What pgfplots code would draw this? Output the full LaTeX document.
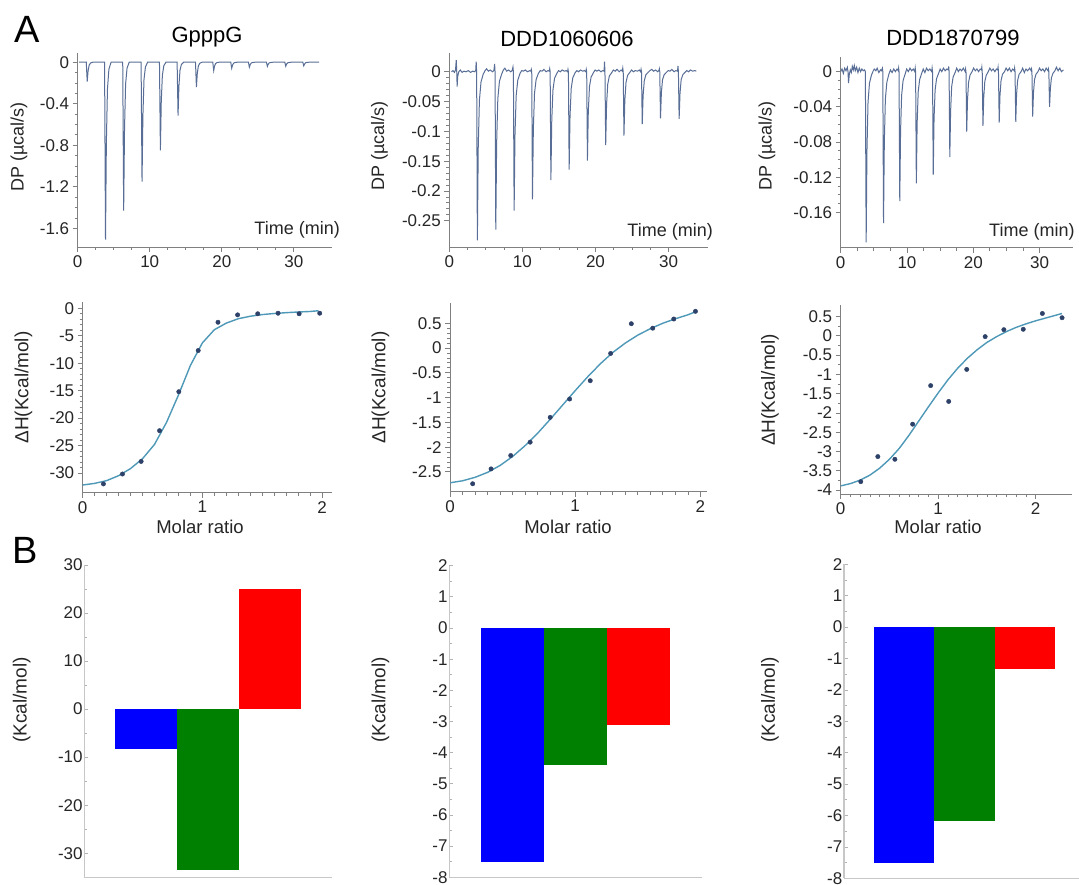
\documentclass[border=0pt]{standalone}
\usepackage{fontspec}
\setmainfont{Liberation Sans}
\usepackage{pgfplots}
\pgfplotsset{compat=1.18}
\definecolor{trace}{RGB}{88,110,150}
\definecolor{fit}{RGB}{78,152,184}
\definecolor{dots}{RGB}{45,65,105}
\definecolor{barblue}{RGB}{0,0,255}
\definecolor{bargreen}{RGB}{0,128,0}
\definecolor{barred}{RGB}{255,0,0}
\pgfplotsset{
  every axis/.append style={scale only axis, anchor=south west,
    /pgf/number format/assume math mode=true,
    tick label style={font=\fontsize{17}{20}\selectfont, text=black!85}},
  topstyle/.style={axis x line*=bottom, axis y line*=left,
    axis line style={draw=black!50, line width=0.8pt, -},
    tick style={draw=black!50, line width=0.8pt},
    tick align=outside, major tick length=5pt, minor tick length=3pt, xmin=0},
  barstyle/.style={axis x line*=bottom, axis y line*=left,
    axis line style={draw=black!22, line width=1.2pt, -},
    tick style={draw=black!30, line width=0.8pt},
    tick align=inside, major tick length=4pt, minor tick length=2.5pt,
    xmin=0, xmax=4, xtick=\empty,
    yticklabel style={inner sep=1.5pt},
    ybar, bar width=1, bar shift=0pt},
}
\begin{document}
\begin{tikzpicture}
\useasboundingbox (0,0) rectangle (1079pt,884pt);
\fill[white] (0,0) rectangle (1079pt,884pt);
\clip (0,0) rectangle (1079pt,884pt);

% ---------------- A1 thermogram GpppG
\begin{axis}[topstyle, at={(77.7pt,637pt)}, width=254.3pt, height=193.7pt,
  xmax=35.3, ymin=-1.78, ymax=0.086,
  xtick={0,10,20,30}, minor x tick num=3,
  ytick={-1.6,-1.2,-0.8,-0.4,0}, yticklabels={-1.6,-1.2,-0.8,-0.4,0}, minor y tick num=3]
\addplot[trace, line width=1pt] table {
0.2 0
1.19 0
1.32 -0.186
1.44 -0.084
1.59 -0.028
1.79 -0.007
2.09 0
3.73 0
3.86 -1.71
3.98 -0.77
4.13 -0.26
4.33 -0.068
4.63 0
6.25 0
6.38 -1.43
6.50 -0.64
6.65 -0.21
6.85 -0.057
7.15 0
8.80 0
8.93 -1.15
9.05 -0.52
9.20 -0.17
9.40 -0.046
9.70 0
11.35 0
11.48 -0.85
11.60 -0.38
11.75 -0.13
11.95 -0.034
12.25 0
13.80 0
13.93 -0.515
14.05 -0.23
14.20 -0.077
14.40 -0.021
14.70 0
16.35 0
16.48 -0.24
16.60 -0.108
16.75 -0.036
16.95 -0.01
17.25 0
18.75 0
18.88 -0.08
19.00 -0.036
19.15 -0.012
19.35 -0.003
19.65 0
21.25 0
21.38 -0.058
21.50 -0.026
21.65 -0.009
21.85 -0.002
22.15 0
23.70 0
23.83 -0.048
23.95 -0.022
24.10 -0.007
24.30 -0.002
24.60 0
26.20 0
26.33 -0.04
26.45 -0.018
26.60 -0.006
26.80 -0.002
27.10 0
28.75 0
28.88 -0.038
29.00 -0.017
29.15 -0.006
29.35 -0.002
29.65 0
31.25 0
31.38 -0.035
31.50 -0.016
31.65 -0.005
31.85 -0.001
32.15 0
33.5 0
};
\end{axis}

% ---------------- A2 thermogram DDD1060606
\begin{axis}[topstyle, at={(449.3pt,637pt)}, width=258.7pt, height=193.7pt,
  xmax=35.4, ymin=-0.294, ymax=0.031,
  xtick={0,10,20,30}, minor x tick num=3,
  ytick={-0.25,-0.2,-0.15,-0.1,-0.05,0}, yticklabels={-0.25,-0.2,-0.15,-0.1,-0.05,0}, minor y tick num=4]
\addplot[trace, line width=1pt] table {
0.3 0.000
0.5 0.002
0.7 -0.001
0.85 0.003
0.95 0.0196
1.02 0.0
1.07 -0.025
1.15 -0.008
1.3 0.0
1.5 0.003
1.75 -0.001
2.0 0.001
2.3 0.000
2.6 0.002
2.9 -0.001
3.2 0.001
3.5 0.000
3.62 0.003
3.68 0.017
3.74 0.0
3.84 -0.283
3.96 -0.127
4.12 -0.048
4.34 -0.017
4.64 -0.004
4.9 0.002
5.1 0.005
5.35 0.001
5.6 0.003
5.9 0.000
6.1 0.002
6.2 0.013
6.26 0.0
6.36 -0.265
6.48 -0.119
6.64 -0.045
6.86 -0.016
7.16 -0.004
7.4 0.003
7.6 0.006
7.85 0.001
8.1 0.003
8.4 0.000
8.6 0.002
8.71 0.008
8.77 0.0
8.87 -0.233
8.99 -0.105
9.15 -0.040
9.37 -0.014
9.67 -0.003
9.9 0.002
10.15 0.001
10.4 0.003
10.7 0.000
11.0 0.002
11.15 0.001
11.22 0.004
11.28 0.0
11.38 -0.214
11.50 -0.096
11.66 -0.036
11.88 -0.013
12.18 -0.003
12.45 0.002
12.7 0.001
12.95 0.004
13.25 0.000
13.5 0.002
13.68 0.001
13.74 0.005
13.80 0.0
13.90 -0.182
14.02 -0.082
14.18 -0.031
14.40 -0.011
14.70 -0.003
14.95 0.002
15.2 0.000
15.45 0.003
15.75 0.001
16.0 0.002
16.18 0.000
16.24 0.004
16.30 0.0
16.40 -0.164
16.52 -0.074
16.68 -0.028
16.90 -0.010
17.20 -0.002
17.45 0.002
17.7 0.000
17.95 0.003
18.25 0.001
18.5 0.002
18.68 0.000
18.74 0.004
18.80 0.0
18.90 -0.149
19.02 -0.067
19.18 -0.025
19.40 -0.009
19.70 -0.002
19.95 0.003
20.2 0.001
20.45 0.003
20.75 0.000
21.0 0.002
21.18 0.001
21.24 0.017
21.30 0.0
21.40 -0.123
21.52 -0.055
21.68 -0.021
21.90 -0.007
22.20 -0.002
22.45 0.003
22.7 0.001
22.95 0.004
23.25 0.000
23.5 0.003
23.68 0.001
23.74 0.006
23.80 0.0
23.90 -0.107
24.02 -0.048
24.18 -0.018
24.40 -0.006
24.70 -0.001
24.95 0.003
25.2 0.000
25.45 0.002
25.75 0.001
26.0 0.003
26.18 0.000
26.24 0.004
26.30 0.0
26.40 -0.088
26.52 -0.040
26.68 -0.015
26.90 -0.005
27.20 -0.001
27.45 0.002
27.7 0.004
27.95 0.001
28.25 0.003
28.5 0.000
28.68 0.002
28.74 0.005
28.80 0.0
28.90 -0.078
29.02 -0.035
29.18 -0.013
29.40 -0.005
29.70 -0.001
29.95 0.002
30.2 0.001
30.45 0.004
30.75 0.000
31.0 0.002
31.23 0.001
31.29 0.010
31.35 0.0
31.45 -0.079
31.57 -0.036
31.73 -0.013
31.95 -0.005
32.25 -0.001
32.5 0.002
32.75 0.000
33.0 0.003
33.3 0.001
33.6 0.002
33.8 0.001
};
\end{axis}

% ---------------- A3 thermogram DDD1870799
\begin{axis}[topstyle, at={(840.7pt,636.3pt)}, width=232pt, height=191pt,
  xmax=35, ymin=-0.2, ymax=0.017,
  xtick={0,10,20,30}, minor x tick num=3,
  ytick={-0.16,-0.12,-0.08,-0.04,0}, yticklabels={-0.16,-0.12,-0.08,-0.04,0}, minor y tick num=3]
\addplot[trace, line width=1pt] table {
0.0 0.000
0.2 0.003
0.4 -0.002
0.6 0.004
0.8 0.001
1.0 0.005
1.1 0.000
1.18 -0.013
1.3 -0.003
1.45 0.002
1.6 -0.001
1.75 0.006
1.9 0.002
2.05 0.007
2.2 0.001
2.4 0.005
2.6 -0.001
2.8 0.004
3.0 0.000
3.2 0.003
3.4 0.001
3.6 0.002
3.72 0.000
3.84 -0.194
3.96 -0.09
4.12 -0.035
4.34 -0.013
4.64 -0.004
4.85 0.000
5.05 0.003
5.3 0.001
5.5 0.004
5.75 -0.001
6.0 0.002
6.15 0.001
6.29 0.004
6.35 0.000
6.46 -0.172
6.58 -0.08
6.74 -0.031
6.96 -0.012
7.26 -0.003
7.5 0.002
7.75 -0.001
8.0 0.003
8.25 0.000
8.5 0.003
8.68 0.001
8.74 0.004
8.80 0.000
8.91 -0.147
9.03 -0.068
9.19 -0.027
9.41 -0.010
9.71 -0.003
9.95 0.003
10.2 0.000
10.45 0.004
10.7 0.001
10.95 0.003
11.18 0.000
11.24 0.004
11.30 0.000
11.41 -0.127
11.53 -0.059
11.69 -0.023
11.91 -0.009
12.21 -0.002
12.45 0.003
12.7 -0.001
12.95 0.004
13.2 0.001
13.45 0.003
13.73 0.000
13.79 0.004
13.85 0.000
13.96 -0.117
14.08 -0.054
14.24 -0.021
14.46 -0.008
14.76 -0.002
15.0 0.003
15.25 0.000
15.5 0.004
15.75 0.001
16.0 0.003
16.23 0.002
16.29 0.006
16.35 0.000
16.46 -0.097
16.58 -0.045
16.74 -0.017
16.96 -0.006
17.26 -0.001
17.5 0.004
17.75 0.000
18.0 0.003
18.25 0.001
18.5 0.004
18.78 0.000
18.84 0.003
18.90 0.000
19.01 -0.068
19.13 -0.032
19.29 -0.012
19.51 -0.004
19.81 0.000
20.05 0.004
20.3 0.001
20.55 0.003
20.8 0.000
21.05 0.003
21.23 0.002
21.29 0.005
21.35 0.000
21.46 -0.0615
21.58 -0.029
21.74 -0.011
21.96 -0.004
22.26 0.000
22.5 0.004
22.75 0.001
23.0 0.003
23.25 0.000
23.5 0.003
23.68 0.002
23.74 0.005
23.80 0.000
23.91 -0.058
24.03 -0.027
24.19 -0.010
24.41 -0.003
24.71 0.000
24.95 0.004
25.2 0.001
25.45 0.004
25.7 0.000
25.95 0.003
26.18 0.001
26.24 0.004
26.30 0.000
26.41 -0.057
26.53 -0.026
26.69 -0.010
26.91 -0.003
27.21 0.000
27.45 0.004
27.7 -0.001
27.95 0.003
28.2 0.001
28.5 0.004
28.73 0.001
28.79 0.003
28.85 0.000
28.96 -0.051
29.08 -0.024
29.24 -0.009
29.46 -0.003
29.76 0.000
30.0 0.004
30.25 0.001
30.5 0.003
30.75 0.000
31.0 0.004
31.28 0.001
31.34 0.003
31.40 0.000
31.51 -0.040
31.63 -0.019
31.79 -0.007
32.01 -0.002
32.31 0.001
32.55 0.005
32.8 0.001
33.05 0.004
33.3 0.000
33.6 0.002
};
\end{axis}

% ---------------- B1 isotherm GpppG
\begin{axis}[topstyle, at={(82.7pt,391.3pt)}, width=249pt, height=191pt,
  xmax=2.08, ymin=-33.6, ymax=1.2,
  xtick={0,1,2}, minor x tick num=9,
  ytick={-30,-25,-20,-15,-10,-5,0}, minor y tick num=4]
\addplot[fit, line width=1.4pt] table {
0.0 -32.2
0.1 -31.9
0.2 -31.4
0.3 -30.5
0.4 -29.2
0.5 -27.4
0.6 -24.8
0.7 -20.8
0.8 -15.8
0.9 -10.4
1.0 -6.3
1.1 -3.9
1.2 -2.7
1.3 -1.9
1.4 -1.45
1.5 -1.15
1.6 -0.95
1.7 -0.8
1.8 -0.68
1.9 -0.58
1.97 -0.45
};
\addplot[only marks, mark=*, mark size=2.2pt, dots] table {
0.173 -32.0
0.332 -30.2
0.488 -27.9
0.642 -22.3
0.803 -15.2
0.965 -7.7
1.13 -2.55
1.294 -1.2
1.462 -1.0
1.632 -0.9
1.808 -1.0
1.98 -0.9
};
\end{axis}

% ---------------- B2 isotherm DDD1060606
\begin{axis}[topstyle, at={(450pt,392.3pt)}, width=256.7pt, height=188.3pt,
  xmax=2.05, ymin=-2.9, ymax=0.9,
  xtick={0,1,2}, minor x tick num=9,
  ytick={-2.5,-2,-1.5,-1,-0.5,0,0.5}, yticklabels={-2.5,-2,-1.5,-1,-0.5,0,0.5}, minor y tick num=4]
\addplot[fit, line width=1.4pt] table {
0.0 -2.72
0.1 -2.68
0.2 -2.61
0.3 -2.51
0.4 -2.37
0.5 -2.19
0.6 -1.97
0.7 -1.72
0.8 -1.44
0.9 -1.15
1.0 -0.86
1.1 -0.58
1.2 -0.32
1.3 -0.09
1.4 0.10
1.5 0.26
1.6 0.39
1.7 0.50
1.8 0.59
1.9 0.67
1.96 0.73
};
\addplot[only marks, mark=*, mark size=2.2pt, dots] table {
0.181 -2.74
0.328 -2.44
0.485 -2.17
0.64 -1.90
0.80 -1.40
0.955 -1.03
1.12 -0.66
1.283 -0.11
1.448 0.49
1.619 0.40
1.787 0.585
1.96 0.74
};
\end{axis}

% ---------------- B3 isotherm DDD1870799
\begin{axis}[topstyle, at={(840.7pt,390pt)}, width=231pt, height=189pt,
  xmax=2.37, ymin=-4.1, ymax=0.8,
  xtick={0,1,2}, minor x tick num=9,
  ytick={-4,-3.5,-3,-2.5,-2,-1.5,-1,-0.5,0,0.5}, yticklabels={-4,-3.5,-3,-2.5,-2,-1.5,-1,-0.5,0,0.5}, minor y tick num=1]
\addplot[fit, line width=1.4pt] table {
0.0 -3.89
0.1 -3.83
0.2 -3.74
0.3 -3.61
0.4 -3.43
0.5 -3.2
0.6 -2.92
0.7 -2.58
0.8 -2.21
0.9 -1.84
1.0 -1.48
1.1 -1.14
1.2 -0.84
1.3 -0.58
1.4 -0.36
1.5 -0.17
1.6 -0.02
1.7 0.11
1.8 0.22
1.9 0.31
2.0 0.39
2.1 0.46
2.2 0.53
2.27 0.58
};
\addplot[only marks, mark=*, mark size=2.2pt, dots] table {
0.206 -3.78
0.381 -3.13
0.556 -3.20
0.738 -2.29
0.923 -1.29
1.108 -1.70
1.293 -0.87
1.482 -0.02
1.674 0.16
1.873 0.17
2.069 0.58
2.271 0.47
};
\end{axis}

% ---------------- C1 bars GpppG
\begin{axis}[barstyle, at={(84.3pt,6.3pt)}, width=247.4pt, height=312.7pt,
  ymin=-35.1, ymax=30, ytick={-30,-20,-10,0,10,20,30}, minor y tick num=1]
\addplot[fill=barblue, draw=none] coordinates {(1,-8.35)};
\addplot[fill=bargreen, draw=none] coordinates {(2,-33.4)};
\addplot[fill=barred, draw=none] coordinates {(3,25.0)};
\end{axis}

% ---------------- C2 bars DDD1060606
\begin{axis}[barstyle, at={(449.3pt,6.7pt)}, width=252.4pt, height=311.6pt,
  ymin=-8, ymax=2, ytick={-8,-7,-6,-5,-4,-3,-2,-1,0,1,2}, minor y tick num=1]
\addplot[fill=barblue, draw=none] coordinates {(1,-7.5)};
\addplot[fill=bargreen, draw=none] coordinates {(2,-4.38)};
\addplot[fill=barred, draw=none] coordinates {(3,-3.12)};
\end{axis}

% ---------------- C3 bars DDD1870799
\begin{axis}[barstyle, at={(844pt,5.7pt)}, width=241.2pt, height=314pt,
  ymin=-8, ymax=2, ytick={-8,-7,-6,-5,-4,-3,-2,-1,0,1,2}, minor y tick num=1]
\addplot[fill=barblue, draw=none] coordinates {(1,-7.52)};
\addplot[fill=bargreen, draw=none] coordinates {(2,-6.19)};
\addplot[fill=barred, draw=none] coordinates {(3,-1.33)};
\end{axis}

% ---------------- texts
\node[font=\fontsize{38}{40}\selectfont] at (27pt,855pt) {A};
\node[font=\fontsize{38}{40}\selectfont] at (25pt,334pt) {B};
\node[font=\fontsize{22}{24}\selectfont] at (207pt,847pt) {GpppG};
\node[font=\fontsize{22}{24}\selectfont] at (567pt,845pt) {DDD1060606};
\node[font=\fontsize{22}{24}\selectfont] at (953pt,846pt) {DDD1870799};
\node[font=\fontsize{18}{20}\selectfont, anchor=east, inner sep=0pt, text=black!85] at (340pt,654pt) {Time (min)};
\node[font=\fontsize{18}{20}\selectfont, anchor=east, inner sep=0pt, text=black!85] at (713pt,652.3pt) {Time (min)};
\node[font=\fontsize{18}{20}\selectfont, anchor=west, inner sep=0pt, text=black!85] at (989pt,652.3pt) {Time (min)};
\node[font=\fontsize{18}{20}\selectfont, rotate=90, text=black!85] at (19pt,737pt) {DP (µcal/s)};
\node[font=\fontsize{18}{20}\selectfont, rotate=90, text=black!85] at (379.5pt,738pt) {DP (µcal/s)};
\node[font=\fontsize{18}{20}\selectfont, rotate=90, text=black!85] at (767pt,738pt) {DP (µcal/s)};
\node[font=\fontsize{19}{21}\selectfont, rotate=90, text=black!85] at (23.5pt,496.5pt) {ΔH(Kcal/mol)};
\node[font=\fontsize{19}{21}\selectfont, rotate=90, text=black!85] at (380.5pt,496.5pt) {ΔH(Kcal/mol)};
\node[font=\fontsize{19}{21}\selectfont, rotate=90, text=black!85] at (770pt,494pt) {ΔH(Kcal/mol)};
\node[font=\fontsize{18.5}{20}\selectfont, text=black!85] at (200pt,357pt) {Molar ratio};
\node[font=\fontsize{18.5}{20}\selectfont, text=black!85] at (568pt,357pt) {Molar ratio};
\node[font=\fontsize{18.5}{20}\selectfont, text=black!85] at (938pt,357pt) {Molar ratio};
\node[font=\fontsize{19}{21}\selectfont, rotate=90, text=black!85] at (21.7pt,184pt) {(Kcal/mol)};
\node[font=\fontsize{19}{21}\selectfont, rotate=90, text=black!85] at (380.5pt,184pt) {(Kcal/mol)};
\node[font=\fontsize{19}{21}\selectfont, rotate=90, text=black!85] at (770pt,184pt) {(Kcal/mol)};
\end{tikzpicture}
\end{document}
